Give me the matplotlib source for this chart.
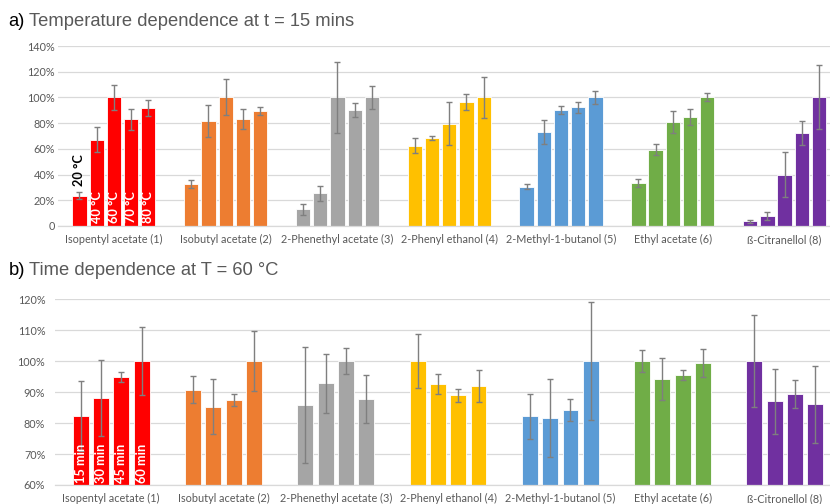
import matplotlib.pyplot as plt
import numpy as np

# Compounds (panel a and b use slightly different spellings for compound 8)
compounds_a = ['Isopentyl acetate (1)', 'Isobutyl acetate (2)', '2-Phenethyl acetate (3)',
               '2-Phenyl ethanol (4)', '2-Methyl-1-butanol (5)', 'Ethyl acetate (6)',
               'ß-Citranellol (8)']
compounds_b = ['Isopentyl acetate (1)', 'Isobutyl acetate (2)', '2-Phenethyl acetate (3)',
               '2-Phenyl ethanol (4)', '2-Methyl-1-butanol (5)', 'Ethyl acetate (6)',
               'ß-Citronellol (8)']
colors = ['#FF0000', '#ED7D31', '#A5A5A5', '#FFC000', '#5B9BD5', '#70AD47', '#7030A0']

# a) relative yield (%) at 20, 40, 60, 70, 80 °C after 15 min
temps = ['20 °C', '40 °C', '60 °C', '70 °C', '80 °C']
yield_temp = [
    [23.6, 67.2, 100, 83.0, 92.0],
    [32.7, 81.9, 100, 83.0, 89.4],
    [13.0, 25.4, 100, 90.0, 100],
    [62.5, 68.4, 79.6, 96.4, 100],
    [30.6, 73.4, 90.2, 92.3, 100],
    [33.4, 59.4, 80.9, 84.8, 100],
    [3.6, 8.0, 40.0, 72.3, 100],
]
err_temp = [
    [2.7, 10.0, 9.7, 8.0, 6.4],
    [3.2, 12.5, 14.0, 7.7, 3.4],
    [4.5, 6.0, 27.7, 5.4, 9.3],
    [5.6, 1.7, 16.8, 6.0, 15.8],
    [2.0, 9.3, 3.2, 4.4, 4.8],
    [2.8, 4.5, 8.3, 6.5, 3.1],
    [1.0, 3.1, 17.4, 9.2, 24.9],
]

# b) relative yield (%) at 15, 30, 45, 60 min and 60 °C
times = ['15 min', '30 min', '45 min', '60 min']
yield_time = [
    [82.4, 88.0, 94.7, 100],
    [90.8, 85.3, 87.4, 100],
    [85.9, 92.8, 100, 87.7],
    [100, 92.6, 88.9, 92.0],
    [82.2, 81.6, 84.3, 100],
    [100, 94.1, 95.5, 99.4],
    [100, 87.0, 89.4, 86.0],
]
err_time = [
    [11.3, 12.2, 1.6, 11.1],
    [4.4, 8.8, 1.9, 9.7],
    [18.7, 9.6, 4.1, 7.7],
    [8.8, 3.2, 2.0, 5.2],
    [7.3, 12.5, 3.6, 19.0],
    [3.4, 6.8, 1.5, 4.5],
    [14.7, 10.4, 4.6, 12.3],
]

plt.rcParams['font.family'] = ['Lato', 'DejaVu Sans']
text_gray = '#595959'

fig = plt.figure(figsize=(8.3, 5.04), dpi=100)


def grouped_bars(ax, values, errors, pitch, width):
    n = len(values[0])
    offsets = (np.arange(n) - (n - 1) / 2) * pitch
    xs = []
    for g, (vals, errs) in enumerate(zip(values, errors)):
        x = g + offsets
        ax.bar(x, vals, width=width, color=colors[g], edgecolor='white', linewidth=0.6, zorder=2)
        ax.errorbar(x, vals, yerr=errs, fmt='none', ecolor='#7F7F7F', elinewidth=1.0,
                    capsize=2.2, capthick=1.0, zorder=3)
        xs.append(x)
    return xs


def style_axis(ax, labels, yticks, yticklabels, ypad):
    ax.set_xticks(range(len(labels)))
    ax.set_xticklabels(labels, fontsize=7.8, color=text_gray)
    ax.set_yticks(yticks)
    ax.set_yticklabels(yticklabels, fontsize=7.8, color=text_gray)
    ax.tick_params(axis='both', length=0)
    ax.tick_params(axis='x', pad=6)
    ax.tick_params(axis='y', pad=ypad)
    ax.grid(axis='y', color='#D9D9D9', linewidth=0.9, zorder=0)
    ax.set_axisbelow(True)
    for side in ['top', 'right', 'left']:
        ax.spines[side].set_visible(False)
    ax.spines['bottom'].set_color('#D9D9D9')
    ax.spines['bottom'].set_linewidth(0.9)
    ax.set_xlim(-0.5, len(labels) - 0.5)


# Panel a: temperature dependence
ax1 = fig.add_axes([0.0699, 0.5516, 0.9428, 0.357])
xs = grouped_bars(ax1, yield_temp, err_temp, pitch=0.154, width=0.128)
ax1.set_ylim(0, 140)
style_axis(ax1, compounds_a, np.arange(0, 141, 20),
           ['0'] + [f'{v}%' for v in range(20, 141, 20)], ypad=2)
ax1.text(xs[0][0], yield_temp[0][0] + err_temp[0][0] + 5, temps[0], rotation=90,
         ha='center', va='bottom', fontsize=9.2, fontweight='bold', color='black')
for i in range(1, len(temps)):
    ax1.text(xs[0][i], 2.5, temps[i], rotation=90, ha='center', va='bottom',
             fontsize=9.2, fontweight='bold', color='white', zorder=4)

fig.text(0.010, 0.958, 'a)', fontsize=13.2, color='black', va='center',
         family=['Liberation Sans'])
fig.text(0.035, 0.958, 'Temperature dependence at t = 15 mins', fontsize=13.2,
         color=text_gray, va='center', family=['Liberation Sans'])

# Panel b: time dependence
ax2 = fig.add_axes([0.0663, 0.0377, 0.947, 0.369])
xs = grouped_bars(ax2, yield_time, err_time, pitch=0.181, width=0.142)
ax2.set_ylim(60, 120)
style_axis(ax2, compounds_b, np.arange(60, 121, 10),
           [f'{v}%' for v in range(60, 121, 10)], ypad=7)
for i in range(len(times)):
    ax2.text(xs[0][i], 60.8, times[i], rotation=90, ha='center', va='bottom',
             fontsize=9.2, fontweight='bold', color='white', zorder=4)

fig.text(0.010, 0.464, 'b)', fontsize=13.2, color='black', va='center',
         family=['Liberation Sans'])
fig.text(0.035, 0.464, 'Time dependence at T = 60 °C', fontsize=13.2,
         color=text_gray, va='center', family=['Liberation Sans'])

fig.savefig('out.png', dpi=100)
